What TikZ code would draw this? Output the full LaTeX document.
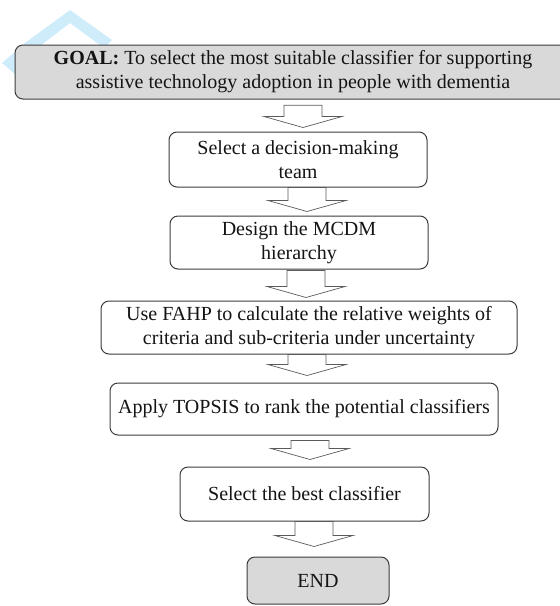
\documentclass[tikz,border=0pt]{standalone}
\usepackage{fontspec}
\setmainfont{Liberation Serif}
\usetikzlibrary{calc}

\definecolor{boxgray}{RGB}{217,217,217}
\definecolor{edgegray}{RGB}{60,60,60}
\definecolor{arrowgray}{RGB}{90,90,90}
\definecolor{markblue}{RGB}{206,236,250}
\definecolor{inkcol}{RGB}{20,20,20}

\tikzset{
  boxtext/.style={align=center, inner sep=0pt, text=inkcol,
    font=\fontsize{20}{24}\selectfont},
  stepbox/.style={boxtext, draw=edgegray, line width=1pt, rounded corners=8pt,
    fill=white},
  shadedbox/.style={stepbox, fill=boxgray},
  flowarrow/.style={draw=arrowgray, line width=0.7pt, fill=white, line join=miter}
}

% block arrow between two named nodes:
% #1 upper node, #2 lower node, #3 x position (pt), #4 gap under #1, #5 gap above #2
\newcommand\blockarrow[5]{%
  \path let \p1=(#1.south), \p2=(#2.north) in
    [flowarrow]
    ({#3pt-19pt},{\y1-#4pt}) -- ({#3pt+19pt},{\y1-#4pt})
    -- ({#3pt+19pt},{\y2+#5pt+11pt}) -- ({#3pt+39pt},{\y2+#5pt+11pt})
    -- ({#3pt},{\y2+#5pt}) -- ({#3pt-39pt},{\y2+#5pt+11pt})
    -- ({#3pt-19pt},{\y2+#5pt+11pt}) -- cycle;
}

\begin{document}
\begin{tikzpicture}[x=1pt, y=-1pt]
  \useasboundingbox (0,0) rectangle (560,606);

  % light watermark chevron in the corner
  \fill[markblue] (70,10) -- (112,40) -- (104,48) -- (70,23) -- (40,46) -- (18,48) -- cycle;
  \fill[markblue] (16,51) -- (2,63) -- (16,75) -- cycle;

  % goal banner runs off the right edge of the page
  \draw[shadedbox] (15,45) rectangle (640,99);
  \node[boxtext, minimum height=54pt] (goal) at (293,72)
    {\textbf{GOAL:} To select the most suitable classifier for supporting\\
     assistive technology adoption in people with dementia};

  \node[stepbox, minimum width=258pt, minimum height=55pt] (team) at (298,159.5)
    {Select a decision-making\\team};

  \node[stepbox, minimum width=258pt, minimum height=53pt] (mcdm) at (299,242.5)
    {Design the MCDM\\hierarchy};

  \node[stepbox, minimum width=416pt, minimum height=53pt] (fahp) at (309,327.5)
    {Use FAHP to calculate the relative weights of\\
     criteria and sub-criteria under uncertainty};

  \node[stepbox, minimum width=388pt, minimum height=52pt] (topsis) at (304,409)
    {Apply TOPSIS to rank the potential classifiers};

  \node[stepbox, minimum width=249pt, minimum height=54pt] (best) at (304.5,494)
    {Select the best classifier};

  \node[shadedbox, minimum width=142pt, minimum height=47pt] (end) at (318,580.5)
    {END};

  \blockarrow{goal}{team}{303}{6}{4}
  \blockarrow{team}{mcdm}{307}{0}{4}
  \blockarrow{mcdm}{fahp}{306}{1}{3}
  \blockarrow{fahp}{topsis}{307}{0}{7}
  \blockarrow{topsis}{best}{310}{5}{7}
  \blockarrow{best}{end}{314}{0}{10}
\end{tikzpicture}
\end{document}
